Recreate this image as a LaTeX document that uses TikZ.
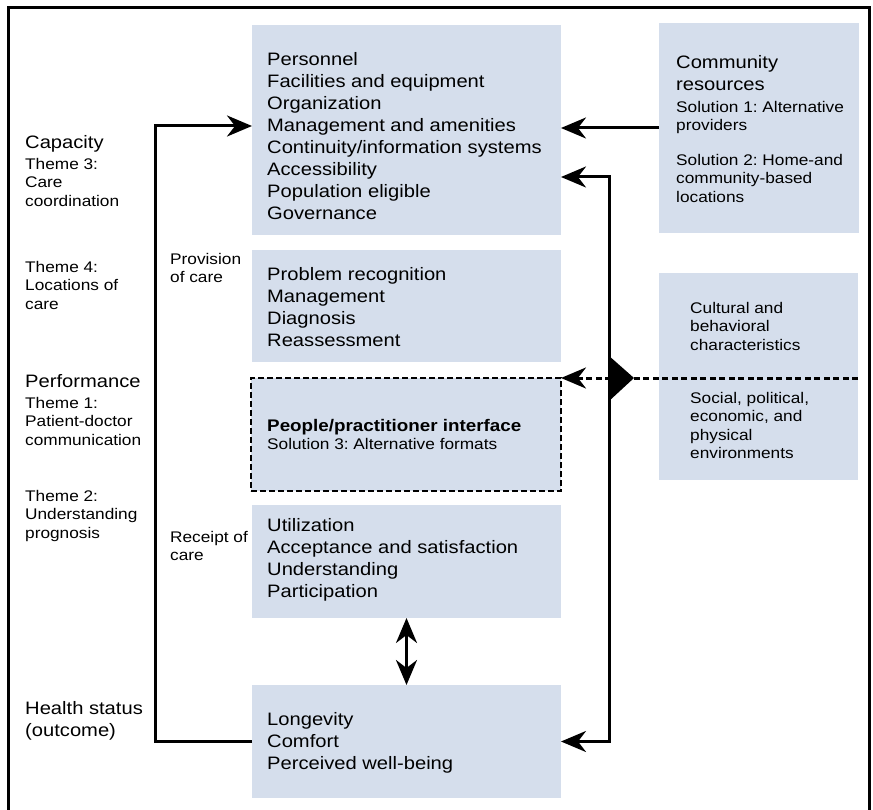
\documentclass[tikz,border=0pt]{standalone}
\usepackage{fontspec}
\setmainfont{Liberation Sans}[FakeStretch=1.12]
\usetikzlibrary{arrows.meta,calc}
\definecolor{boxfill}{HTML}{D5DEEC}
\frenchspacing
\newcommand\bigfont{\fontsize{18}{22}\selectfont}
\newcommand\boldfont{\fontsize{16.8}{22}\selectfont\bfseries}
\newcommand\smallfont{\fontsize{15.4}{18.5}\selectfont}
\newcommand\bst{\rule{0pt}{15pt}}
\newcommand\sst{\rule{0pt}{13pt}}
\begin{document}
\begin{tikzpicture}[x=1pt,y=-1pt,
  panel/.style={fill=boxfill, draw=none, inner sep=0, outer sep=0, anchor=north west},
  bigtxt/.style={font=\bigfont, anchor=north west, inner sep=0, align=left},
  boldtxt/.style={font=\boldfont, anchor=north west, inner sep=0, align=left},
  smalltxt/.style={font=\smallfont, anchor=north west, inner sep=0, align=left},
  conn/.style={line width=3pt},
  tip/.style={-{Stealth[length=25pt,width=21pt,inset=8pt]}},
  tips/.style={{Stealth[length=25pt,width=21pt,inset=8pt]}-{Stealth[length=25pt,width=21pt,inset=8pt]}},
  dashconn/.style={line width=3pt, dash pattern=on 6pt off 3.5pt},
]
\useasboundingbox (0,0) rectangle (873,810);
\clip (0,0) rectangle (873,810);

% outer frame
\draw[line width=3pt] (8,820) -- (8,8) -- (869,8) -- (869,820);

% panels
\node[panel, minimum width=309pt, minimum height=210pt] (cap) at (252,25) {};
\node[panel, minimum width=200pt, minimum height=210pt] (comm) at (659,23) {};
\node[panel, minimum width=309pt, minimum height=112pt] (prov) at (252,250) {};
\node[panel, minimum width=310pt, minimum height=113pt, draw=black, line width=2.8pt, dash pattern=on 6pt off 3pt] (ppi) at (251,378) {};
\node[panel, minimum width=199pt, minimum height=207pt] (cult) at (659,273) {};
\node[panel, minimum width=309pt, minimum height=113pt] (rec) at (252,505) {};
\node[panel, minimum width=309pt, minimum height=113pt] (hlt) at (252,685) {};

% left column labels
\node[bigtxt] (lcap) at (25,133) {\bst Capacity};
\node[smalltxt] (lth3) at (25,156) {\sst Theme 3:\\Care\\coordination};
\node[smalltxt] (lth4) at (25,259) {\sst Theme 4:\\Locations of\\care};
\node[bigtxt] (lperf) at (25,372) {\bst Performance};
\node[smalltxt] (lth1) at (25,395) {\sst Theme 1:\\Patient-doctor\\communication};
\node[smalltxt] (lth2) at (25,488) {\sst Theme 2:\\Understanding\\prognosis};
\node[bigtxt] (lhs) at (25,699) {\bst Health status\\(outcome)};

% middle labels
\node[smalltxt] (lprov) at (170,251) {\sst Provision\\of care};
\node[smalltxt] (lrec) at (170,529) {\sst Receipt of\\care};

% box texts
\node[bigtxt] (tcap) at (267,50) {\bst Personnel\\Facilities and equipment\\Organization\\Management and amenities\\Continuity/information systems\\Accessibility\\Population eligible\\Governance};
\node[bigtxt] (tprov) at (267,265) {\bst Problem recognition\\Management\\Diagnosis\\Reassessment};
\node[boldtxt] (tppi) at (267,416) {\bst People/practitioner interface};
\node[smalltxt] (tppis) at (267,436) {\sst Solution 3: Alternative formats};
\node[bigtxt] (trec) at (267,516) {\bst Utilization\\Acceptance and satisfaction\\Understanding\\Participation};
\node[bigtxt] (thlt) at (267,710) {\bst Longevity\\Comfort\\Perceived well-being};

\node[bigtxt] (tcomm) at (676,53) {\bst Community\\resources};
\node[smalltxt] (tsol1) at (676,99) {\sst Solution 1: Alternative\\providers};
\node[smalltxt] (tsol2) at (676,152) {\sst Solution 2: Home-and\\community-based\\locations};
\node[smalltxt] (tcult) at (690,300) {\sst Cultural and\\behavioral\\characteristics};
\node[smalltxt] (tsoc) at (690,390) {\sst Social, political,\\economic, and\\physical\\environments};

% connectors
\coordinate (lup) at (155,126);
\draw[conn,tip] (hlt.west) -| (lup) -- (lup -| cap.west);
\draw[conn,tip] (comm.west) -- (comm.west -| cap.east);
\coordinate (rtop) at (609,177);
\draw[conn,tips] (rtop -| cap.east) -- (rtop) |- (hlt.east);
\draw[conn,tips] (rec.south) -- (hlt.north);
\draw[dashconn,tip] (cult.east |- ppi.north) -- (ppi.north east);
\fill (608,355) -- (634,378) -- (608,402) -- cycle;
\end{tikzpicture}
\end{document}
